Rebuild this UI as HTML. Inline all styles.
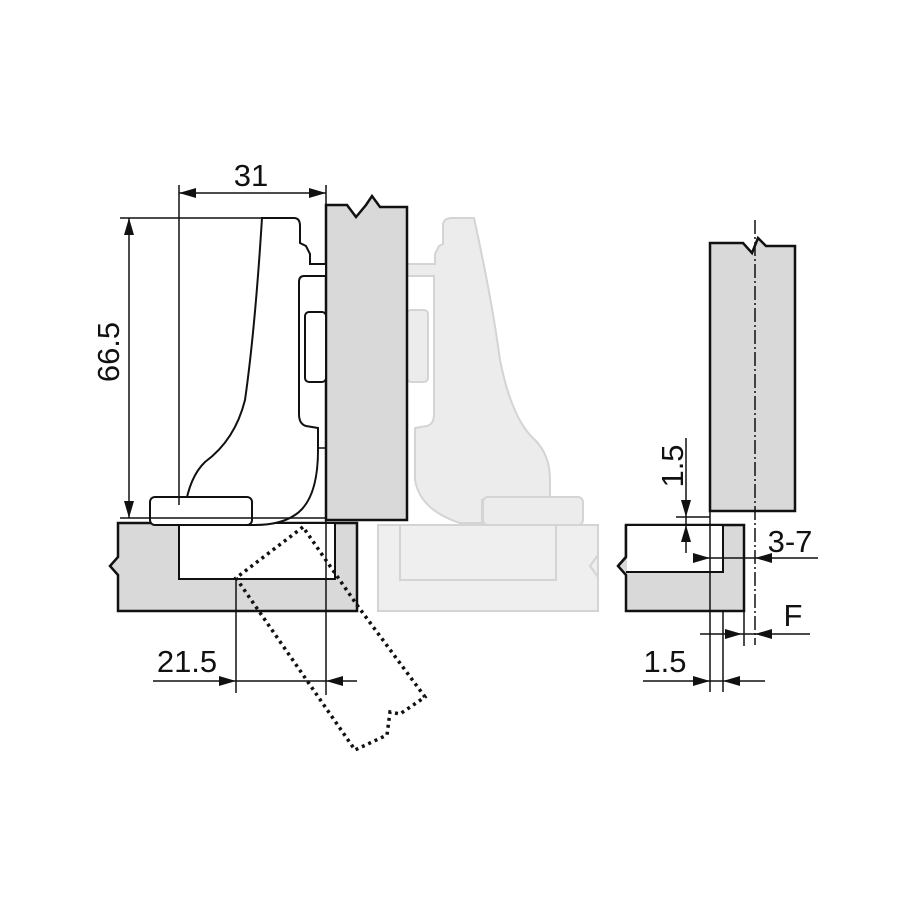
<!DOCTYPE html>
<html><head><meta charset="utf-8"><style>
html,body{margin:0;padding:0;background:#fff}
svg{display:block}
text{font-family:"Liberation Sans",sans-serif;fill:#111}
</style></head><body>
<svg width="900" height="900" viewBox="0 0 900 900" xmlns="http://www.w3.org/2000/svg">

<!-- ghost right copy -->
<g>
 <rect x="378" y="525" width="220" height="86" fill="#efefef" stroke="#d4d4d4" stroke-width="2"/>
 <rect x="400" y="525" width="156" height="55" fill="#efefef" stroke="#d4d4d4" stroke-width="2"/>
 <path d="M598,555 L590,566 L598,577" fill="none" stroke="#d4d4d4" stroke-width="2"/>
 <path d="M407,264 L435,264 L435,254 L439,246 L443,244 L443,226 Q443,218 452,218 L474,218 Q492,300 500,360 Q512,420 535,440 Q550,455 550,480 L550,500 L482,500 L482,523 L460,523 Q420,510 415,480 L415,428 L427,426 Q434,424 434,414 L434,276 L407,276 Z" fill="#ececec" stroke="#d4d4d4" stroke-width="2"/>
 <rect x="407" y="310" width="21" height="72" rx="4" fill="#ececec" stroke="#d4d4d4" stroke-width="2"/>
 <rect x="483" y="497" width="100" height="28" rx="5" fill="#ececec" stroke="#d4d4d4" stroke-width="2"/>
</g>

<!-- left cabinet panel -->
<path d="M118,523 L357,523 L357,611 L118,611 L118,575 L110,566 L118,557 Z" fill="#d9d9d9" stroke="#111" stroke-width="2.5"/>
<rect x="179" y="523" width="156" height="56" fill="#fff" stroke="#111" stroke-width="2"/>

<!-- door -->
<path d="M326,205 L347,205 L356,217 L366,205 L372,196 L380,207 L407,207 L407,520 L326,520 Z" fill="#d9d9d9" stroke="#111" stroke-width="2.5"/>

<!-- hinge arm -->
<path d="M262,218 L294,218 Q300,218 300,226 L300,243 L306,246 L310,254 L310,264 L326,264 L326,276 L304,276 Q299,276 299,282 L299,414 Q299,424 306,426 L318,428 L318,450 Q318,500 295,515 Q280,525 255,525 L183,525 Q186,480 205,462 Q235,440 245,400 Q255,330 262,218 Z" fill="#fff" stroke="#111" stroke-width="2"/>
<rect x="305" y="312" width="21" height="70" rx="4" fill="#fff" stroke="#111" stroke-width="2"/>
<rect x="150" y="497" width="102" height="28" rx="5" fill="#fff" stroke="#111" stroke-width="2"/>
<line x1="318" y1="448" x2="326" y2="448" stroke="#111" stroke-width="1.5"/>

<!-- dotted door -->
<path d="M303,527 L236,578 L355,750 L387,735 L390,712 L400,714 L425,697 L357,605 Z" fill="none" stroke="#111" stroke-width="3.5" stroke-dasharray="3,4"/>

<!-- dimensions left -->
<g stroke="#111" stroke-width="1.5" fill="none">
 <line x1="179" y1="185" x2="179" y2="505"/>
 <line x1="326" y1="185" x2="326" y2="695"/>
 <line x1="179" y1="193" x2="326" y2="193"/>
 <line x1="120" y1="218" x2="262" y2="218"/>
 <line x1="120" y1="518" x2="326" y2="518"/>
 <line x1="129" y1="218" x2="129" y2="518"/>
 <line x1="236" y1="578" x2="236" y2="693"/>
 <line x1="153" y1="681" x2="357" y2="681"/>
</g>
<g fill="#111">
 <polygon points="179,193 196,188 196,198"/>
 <polygon points="326,193 309,188 309,198"/>
 <polygon points="129,218 124,235 134,235"/>
 <polygon points="129,518 124,501 134,501"/>
 <polygon points="236,681 219,676 219,686"/>
 <polygon points="326,681 343,676 343,686"/>
</g>
<text x="251" y="186" font-size="31" text-anchor="middle">31</text>
<text x="0" y="0" font-size="31" text-anchor="middle" transform="translate(119,352) rotate(-90)">66.5</text>
<text x="187" y="672" font-size="31" text-anchor="middle">21.5</text>

<!-- right detail -->
<path d="M710,243 L743,243 L752,253 L758,238 L766,246 L795,246 L795,511 L710,511 Z" fill="#d9d9d9" stroke="#111" stroke-width="2.5"/>
<path d="M626,525 L744,525 L744,611 L626,611 L626,575 L618,566 L626,557 Z" fill="#d9d9d9" stroke="#111" stroke-width="2.5"/>
<path d="M627,526 L723,526 L723,572 L627,572 Z" fill="#fff" stroke="none"/>
<path d="M626,572 L723,572 L723,525" fill="none" stroke="#111" stroke-width="2"/>
<path d="M626,525 L626,557 L618,566" fill="none" stroke="#111" stroke-width="2.5"/>
<g stroke="#111" stroke-width="1.5" fill="none">
 <line x1="755" y1="220" x2="755" y2="645" stroke-dasharray="14,3,2,3"/>
 <line x1="710" y1="511" x2="710" y2="692"/>
 <line x1="723" y1="611" x2="723" y2="692"/>
 <line x1="744" y1="611" x2="744" y2="646"/>
 <line x1="676" y1="517" x2="710" y2="517"/>
 <line x1="686" y1="438" x2="686" y2="553"/>
 <line x1="695" y1="558" x2="818" y2="558"/>
 <line x1="700" y1="634" x2="810" y2="634"/>
 <line x1="643" y1="681" x2="765" y2="681"/>
</g>
<g fill="#111">
 <polygon points="686,517 681,500 691,500"/>
 <polygon points="686,525 681,542 691,542"/>
 <polygon points="710,558 693,553 693,563"/>
 <polygon points="755,558 772,553 772,563"/>
 <polygon points="742,634 725,629 725,639"/>
 <polygon points="755,634 772,629 772,639"/>
 <polygon points="710,681 693,676 693,686"/>
 <polygon points="723,681 740,676 740,686"/>
</g>
<text x="0" y="0" font-size="31" text-anchor="middle" transform="translate(683,466) rotate(-90)">1.5</text>
<text x="790" y="552" font-size="31" text-anchor="middle">3-7</text>
<text x="793" y="626" font-size="31" text-anchor="middle">F</text>
<text x="665" y="672" font-size="31" text-anchor="middle">1.5</text>
</svg>
</body></html>
